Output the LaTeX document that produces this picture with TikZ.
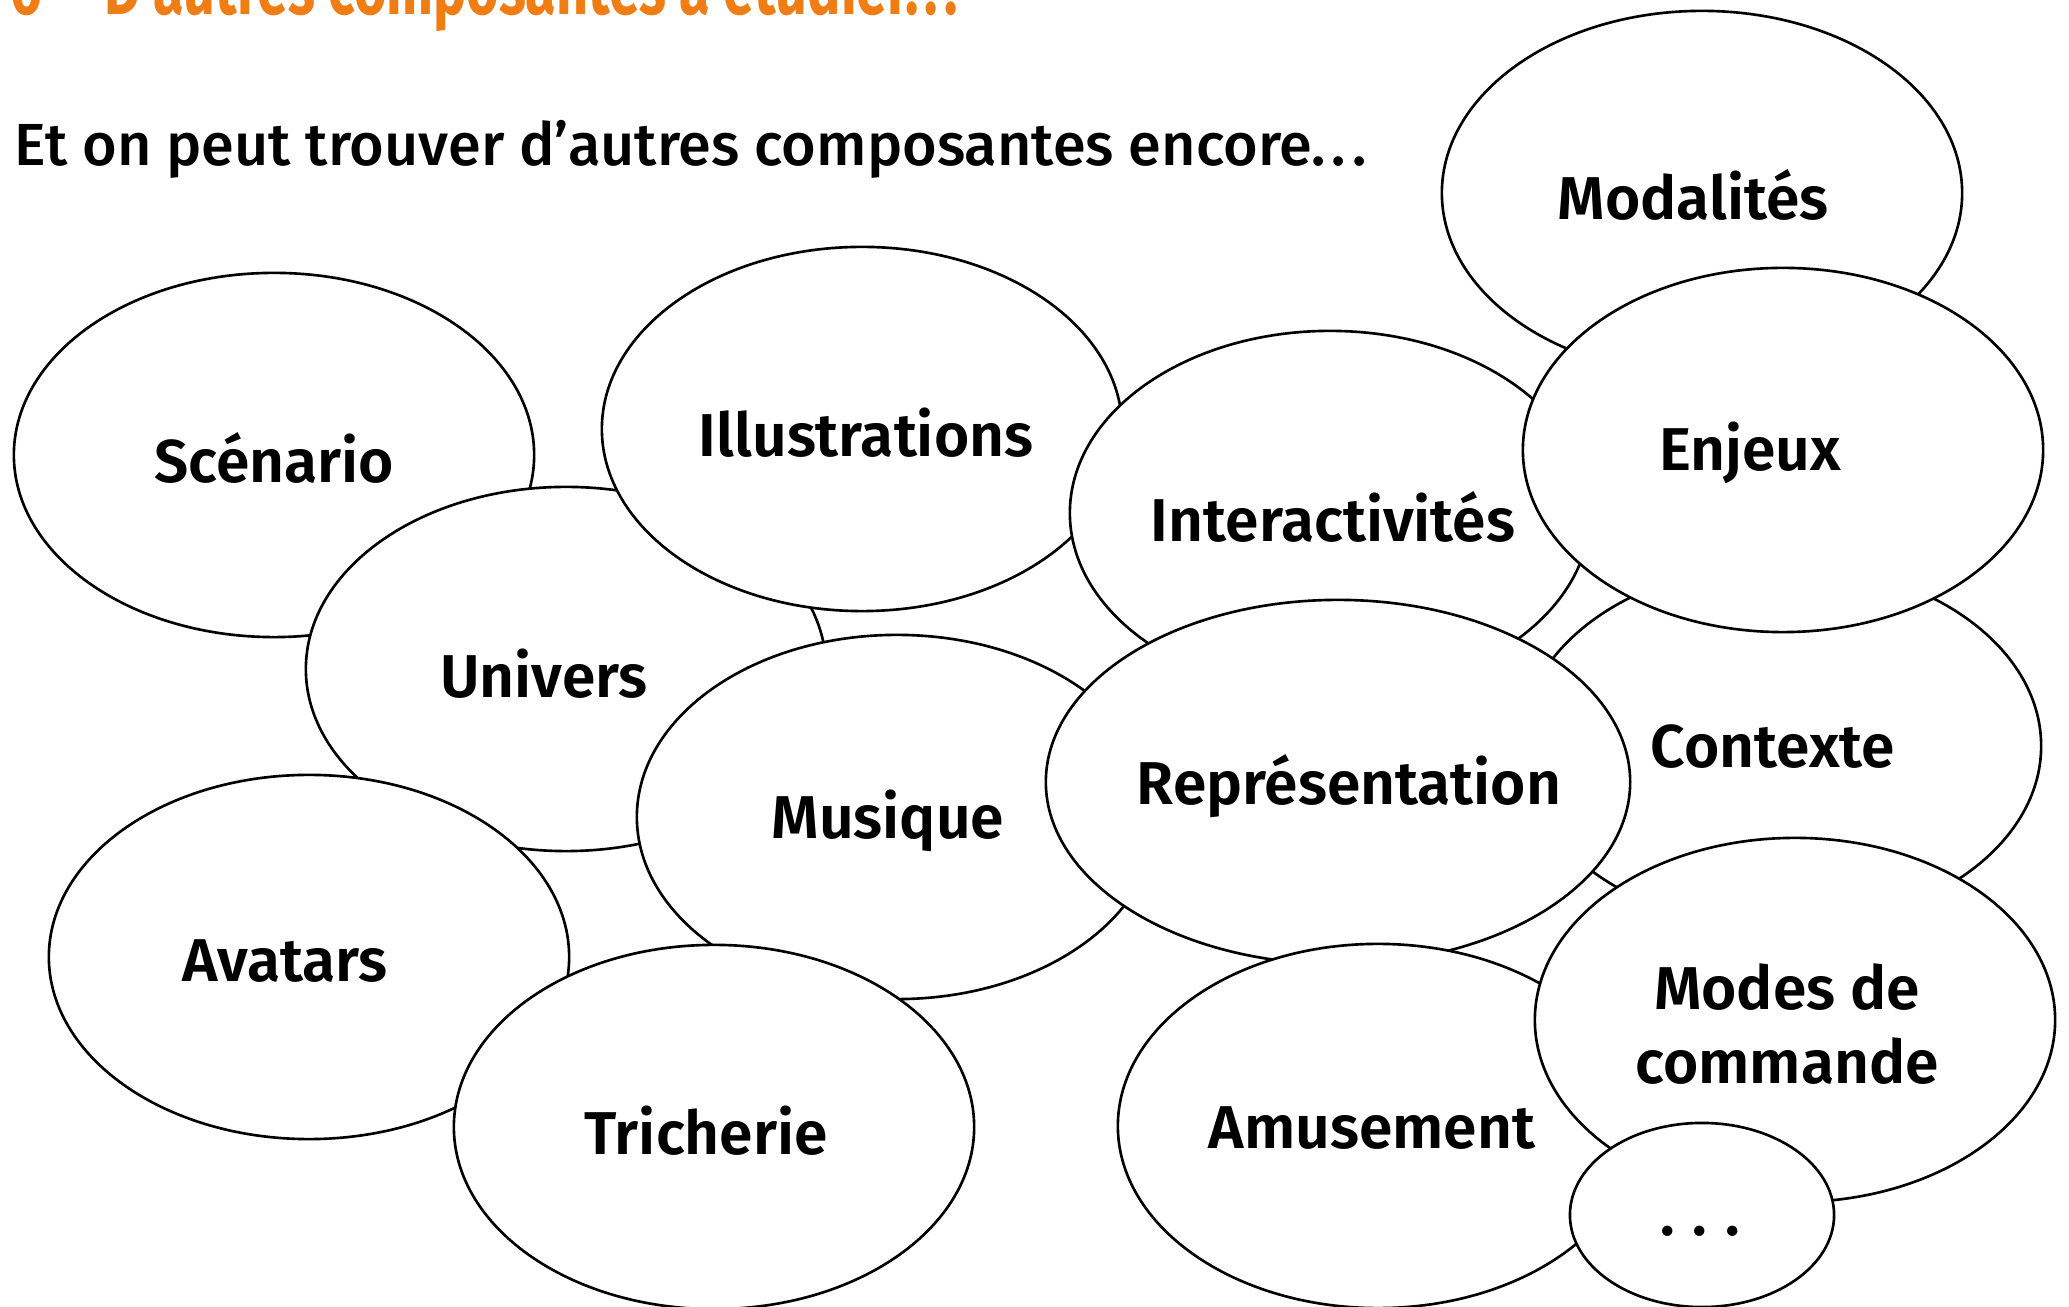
\documentclass[tikz,border=0pt]{standalone}
\usepackage{fontspec}
\setmainfont{Fira Sans}[BoldFont={Fira Sans SemiBold}]
\newfontfamily\headfont{Fira Sans}[FakeStretch=0.72,BoldFont={Fira Sans Bold}]
\newfontfamily\introfont{Fira Sans Medium}
\usetikzlibrary{shapes.geometric}
\definecolor{headorange}{RGB}{240,125,20}
\tikzset{
  blob/.style={draw=black, fill=white, line width=0.75pt, ellipse, inner sep=0pt,
    minimum width=5.2cm, minimum height=3.64cm},
  lbl/.style={font=\bfseries\fontsize{17.2}{21}\selectfont, align=center, inner sep=0pt},
}
\begin{document}
\begin{tikzpicture}[x=0.01cm, y=-0.01cm]
\useasboundingbox (0,0) rectangle (2069,1307);
\fill[white] (0,0) rectangle (2069,1307);
% heading (cut by the top edge)
\node[anchor=base west, inner sep=0pt, text=headorange, font=\headfont\bfseries\fontsize{22}{26}\selectfont] (head) at (10,15) {6\hspace{0.62cm}D’autres composantes à étudier.\hspace{0.08em}.\hspace{0.08em}.};
\node[anchor=base west, inner sep=0pt, font=\introfont\fontsize{16.9}{20}\selectfont] (intro) at (14,166) {Et on peut trouver d’autres composantes encore.\hspace{0.1em}.\hspace{0.1em}.};
% ellipses, back to front
\node[blob] (modal) at (1702,193) {};
\node[lbl] (tmodal) at (1693,195) {Modalités};
\node[blob] (scen) at (274,455) {};
\node[lbl] (tscen) at (274,458) {Scénario};
\node[blob] (ctx) at (1781,746) {};
\node[lbl] (tctx) at (1773,747) {Contexte};
\node[blob] (univ) at (566,669) {};
\node[lbl] (tuniv) at (544,674) {Univers};
\node[blob] (illu) at (862,429) {};
\node[lbl] (tillu) at (866,433) {Illustrations};
\node[blob] (inter) at (1330,513) {};
\node[lbl] (tinter) at (1333,517) {Interactivités};
\node[blob] (enj) at (1783,450) {};
\node[lbl] (tenj) at (1750,453) {Enjeux};
\node[blob] (avat) at (309,957) {};
\node[lbl] (tavat) at (285,961) {Avatars};
\node[blob] (musi) at (897,817) {};
\node[lbl] (tmusi) at (888,821) {Musique};
\node[blob] (trich) at (714,1127) {};
\node[lbl] (ttrich) at (706,1131) {Tricherie};
\node[blob, minimum width=5.84cm] (repr) at (1338,782) {};
\node[lbl] (trepr) at (1349,786) {Représentation};
\node[blob] (amus) at (1378,1126) {};
\node[lbl] (tamus) at (1372,1128) {Amusement};
\node[blob] (modes) at (1795,1020) {};
\node[lbl] (tmodes) at (1787,1024) {Modes de\\commande};
\node[blob, minimum width=2.64cm, minimum height=1.84cm] (dots) at (1702,1215) {};
\node[lbl, anchor=base] (tdots) at (1700,1236) {.\hspace{0.3em}.\hspace{0.3em}.};
\end{tikzpicture}
\end{document}
